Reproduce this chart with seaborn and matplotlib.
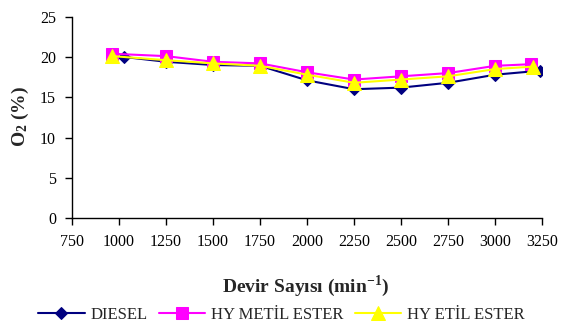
import matplotlib
matplotlib.use("Agg")
import matplotlib.pyplot as plt
import seaborn as sns
import pandas as pd

# Data
diesel_rpm = [1025, 1250, 1500, 1750, 2000, 2250, 2500, 2750, 3000, 3240]
diesel_o2 = [20.0, 19.4, 19.0, 18.9, 17.1, 16.0, 16.2, 16.8, 17.8, 18.3]
metil_rpm = [960, 1250, 1500, 1750, 2000, 2250, 2500, 2750, 3000, 3190]
metil_o2 = [20.4, 20.1, 19.4, 19.2, 18.1, 17.2, 17.6, 18.0, 18.9, 19.1]
etil_rpm = [965, 1250, 1500, 1750, 2000, 2250, 2500, 2750, 3000, 3200]
etil_o2 = [20.1, 19.6, 19.2, 18.9, 17.8, 16.8, 17.2, 17.6, 18.5, 18.8]
series_names = ["DIESEL", "HY METİL ESTER", "HY ETİL ESTER"]
x_ticks = [750, 1000, 1250, 1500, 1750, 2000, 2250, 2500, 2750, 3000, 3250]
y_ticks = [0, 5, 10, 15, 20, 25]

sns.set_style("ticks")
plt.rcParams["font.family"] = ["Liberation Serif", "DejaVu Serif"]
plt.rcParams["mathtext.fontset"] = "custom"
plt.rcParams["mathtext.rm"] = "Liberation Serif"
plt.rcParams["mathtext.bf"] = "Liberation Serif:bold"

fig = plt.figure(figsize=(5.63, 3.25), dpi=100)
ax = fig.add_axes([0.128, 0.328, 0.835, 0.621])

styles = [
    dict(color="#000080", marker="D", markersize=6),
    dict(color="#FF00FF", marker="s", markersize=8.5),
    dict(color="#FFFF00", marker="^", markersize=10),
]
data = [(diesel_rpm, diesel_o2), (metil_rpm, metil_o2), (etil_rpm, etil_o2)]
for (xs, ys), name, st in zip(data, series_names, styles):
    df = pd.DataFrame({"rpm": xs, "o2": ys})
    sns.lineplot(data=df, x="rpm", y="o2", ax=ax, label=name, color=st["color"],
                 marker=st["marker"], markersize=st["markersize"],
                 markeredgecolor=st["color"], linewidth=1.5, sort=False)

ax.set_xlim(750, 3250)
ax.set_ylim(0, 25)
ax.set_xticks(x_ticks)
ax.set_yticks(y_ticks)
ax.tick_params(axis="both", labelsize=11.5, direction="out", length=5, width=1,
               color="black", labelcolor="black")
ax.tick_params(axis="x", pad=6)
ax.tick_params(axis="y", pad=6.5)
for s in ["left", "bottom"]:
    ax.spines[s].set_color("black")
    ax.spines[s].set_linewidth(1)
sns.despine(ax=ax)
ax.grid(False)

ax.set_xlabel(r"Devir Sayısı (min$^{\mathbf{-1}}$)", fontsize=14, fontweight="bold")
ax.xaxis.set_label_coords(0.496, -0.27)
ax.set_ylabel(r"$\mathbf{O_2}$ (%)", fontsize=14, fontweight="bold")
ax.yaxis.set_label_coords(-0.087, 0.507)

ax.get_legend().remove()
handles, labels = ax.get_legend_handles_labels()
fig.legend(handles, labels, loc="center", bbox_to_anchor=(0.5, 0.031), ncol=3,
           frameon=False, fontsize=12, handlelength=2.8, columnspacing=0.66,
           handletextpad=0.36, borderaxespad=0, borderpad=0)

fig.savefig("out.png", dpi=100)
